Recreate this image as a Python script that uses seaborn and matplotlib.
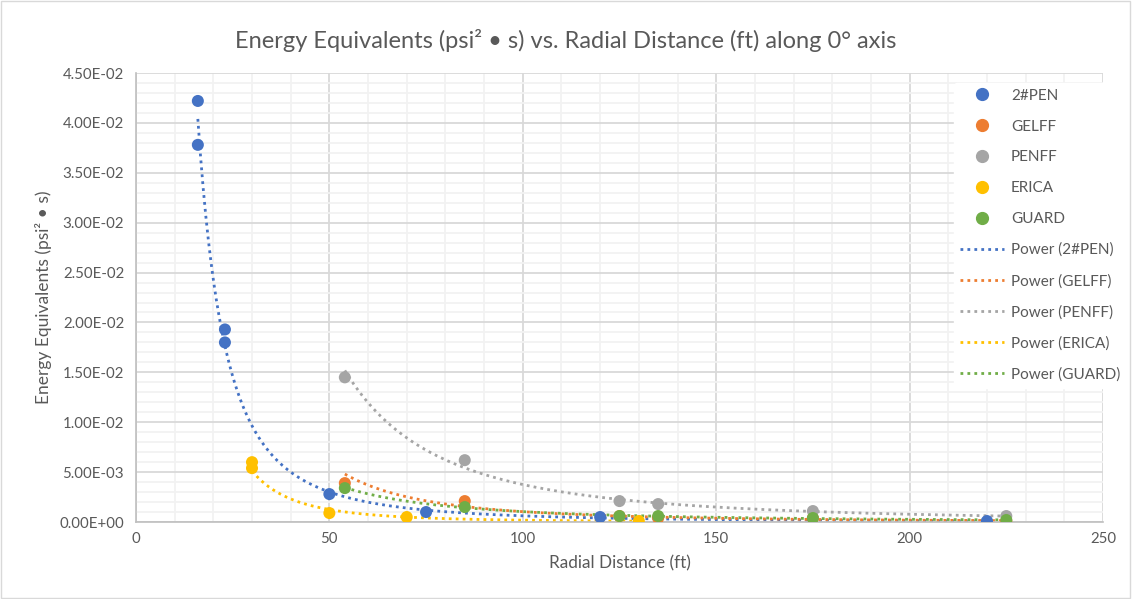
import numpy as np
import pandas as pd
import matplotlib
matplotlib.use("Agg")
import matplotlib.pyplot as plt
from matplotlib.ticker import MultipleLocator, FuncFormatter
from matplotlib.lines import Line2D
import seaborn as sns

# ---- data ----
series_names = ["2#PEN", "GELFF", "PENFF", "ERICA", "GUARD"]
colors = ["#4472C4", "#ED7D31", "#A5A5A5", "#FFC000", "#70AD47"]

pen2_x = [16, 16, 23, 23, 50, 75, 120, 220]
pen2_y = [0.0422, 0.0378, 0.0193, 0.0180, 0.0028, 0.0010, 0.0005, 0.0001]

gelff_x = [54, 85, 125, 135, 175, 225]
gelff_y = [0.0039, 0.0021, 0.0006, 0.0004, 0.0004, 0.0001]

penff_x = [54, 85, 125, 135, 175, 225]
penff_y = [0.0145, 0.0062, 0.0021, 0.0018, 0.0011, 0.0006]

erica_x = [30, 30, 50, 70, 130]
erica_y = [0.0060, 0.0054, 0.0009, 0.0005, 0.0001]

guard_x = [54, 85, 125, 135, 175, 225]
guard_y = [0.0034, 0.0015, 0.0006, 0.0006, 0.0004, 0.0002]

xs = [pen2_x, gelff_x, penff_x, erica_x, guard_x]
ys = [pen2_y, gelff_y, penff_y, erica_y, guard_y]

rows = []
for name, x, y in zip(series_names, xs, ys):
    for a, b in zip(x, y):
        rows.append({"series": name, "x": a, "y": b})
df = pd.DataFrame(rows)

sns.set_style("white")
plt.rcParams["font.family"] = ["Lato", "DejaVu Sans"]
text_col = "#595959"

fig = plt.figure(figsize=(11.32, 5.99), dpi=100)
ax = fig.add_axes([0.1201, 0.1285, 0.8543, 0.7496])

# power trendlines (least-squares fit in log-log space, like Excel)
for name, x, y, c in zip(series_names, xs, ys, colors):
    lx, ly = np.log(x), np.log(y)
    b, la = np.polyfit(lx, ly, 1)
    xx = np.linspace(min(x), max(x), 300)
    ax.plot(xx, np.exp(la) * xx ** b, linestyle=(0, (1, 1.5)), color=c,
            lw=2, zorder=2)

sns.scatterplot(data=df, x="x", y="y", hue="series", hue_order=series_names,
                palette=colors, s=75, edgecolor="none", ax=ax, legend=False,
                zorder=3)

ax.set_xlim(0, 250)
ax.set_ylim(0, 0.045)
ax.xaxis.set_major_locator(MultipleLocator(50))
ax.xaxis.set_minor_locator(MultipleLocator(10))
ax.yaxis.set_major_locator(MultipleLocator(0.005))
ax.yaxis.set_minor_locator(MultipleLocator(0.001))
ax.yaxis.set_major_formatter(FuncFormatter(lambda v, p: f"{v:.2E}"))

ax.grid(which="major", color="#d9d9d9", lw=1.3)
ax.grid(which="minor", color="#f2f2f2", lw=1.3)
ax.set_axisbelow(True)

for s in ["top", "right"]:
    ax.spines[s].set_visible(False)
for s in ["left", "bottom"]:
    ax.spines[s].set_color("#bfbfbf")
    ax.spines[s].set_linewidth(1.2)

ax.tick_params(which="both", direction="out", color="#bfbfbf",
               labelcolor=text_col, labelsize=10.8)
ax.tick_params(which="major", length=5)
ax.tick_params(which="minor", length=4)
ax.tick_params(axis="x", which="both", direction="inout", length=7)

ax.set_xlabel("Radial Distance (ft)", color=text_col, fontsize=12.3, labelpad=7)
ax.set_ylabel("Energy Equivalents (psi² • s)", color=text_col, fontsize=12.5,
              labelpad=5)
fig.suptitle("Energy Equivalents (psi² • s) vs. Radial Distance (ft) along 0° axis",
             color=text_col, fontsize=17, y=0.952)

handles = []
labels = []
for name, c in zip(series_names, colors):
    handles.append(Line2D([], [], marker="o", linestyle="none", color=c,
                          markersize=8.5))
    labels.append(name)
for name, c in zip(series_names, colors):
    handles.append(Line2D([], [], linestyle=(0, (1, 1.5)), color=c, lw=2))
    labels.append(f"Power ({name})")

leg = fig.legend(handles, labels, loc="upper left",
                 bbox_to_anchor=(946 / 1132, 1 - 75 / 599),
                 frameon=True, fontsize=11.0, labelspacing=1.1,
                 handlelength=2.9, handletextpad=0.45, borderpad=0.4)
leg.get_frame().set_facecolor("white")
leg.get_frame().set_edgecolor("white")
leg.get_frame().set_alpha(1)
for t in leg.get_texts():
    t.set_color(text_col)

fig.patches.append(plt.Rectangle((0.001, 0.002), 0.997, 0.996,
                                 transform=fig.transFigure, fill=False,
                                 edgecolor="#d9d9d9", lw=1))

fig.savefig("out.png", dpi=100)
